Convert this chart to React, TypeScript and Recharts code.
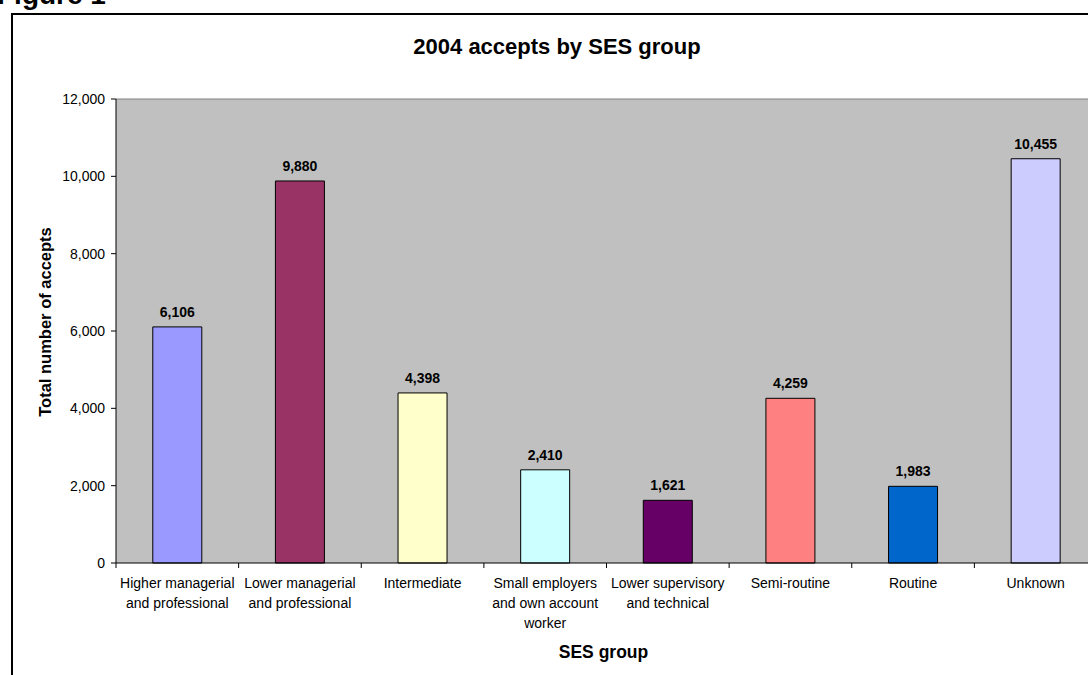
import React from "react";
import {
  BarChart,
  Bar,
  Cell,
  XAxis,
  YAxis,
  CartesianGrid,
  LabelList,
  ReferenceLine,
} from "recharts";

// SES groups, one line per row of the wrapped axis label
const categories = [
  "Higher managerial\nand professional",
  "Lower managerial\nand professional",
  "Intermediate",
  "Small employers\nand own account\nworker",
  "Lower supervisory\nand technical",
  "Semi-routine",
  "Routine",
  "Unknown",
];

const accepts = [6106, 9880, 4398, 2410, 1621, 4259, 1983, 10455];

const barColors = [
  "#9999FF",
  "#993366",
  "#FFFFCC",
  "#CCFFFF",
  "#660066",
  "#FF8080",
  "#0066CC",
  "#CCCCFF",
];

const yTicks = [0, 2000, 4000, 6000, 8000, 10000, 12000];

const data = categories.map((name, i) => ({ name, accepts: accepts[i] }));

const FONT = "'Liberation Sans', Arial, sans-serif";
const CHART_W = 1110;
const CHART_H = 700;
const MARGIN = { top: 99, right: 13, bottom: 57, left: 56 };
const Y_AXIS_W = 60;
const X_AXIS_H = 80;
const PLOT_W = CHART_W - MARGIN.left - MARGIN.right - Y_AXIS_W;
const BAND = PLOT_W / categories.length;

const fmt = (v: number) => Number(v).toLocaleString("en-US");

// category label plus the boundary tick marks between categories
function CategoryTick(props: any) {
  const { x, y, payload, index } = props;
  const lines = String(payload.value).split("\n");
  const isLast = index === categories.length - 1;
  return (
    <g>
      <line x1={x - BAND / 2} x2={x - BAND / 2} y1={y} y2={y + 5} stroke="#000" />
      {isLast && (
        <line x1={x + BAND / 2} x2={x + BAND / 2} y1={y} y2={y + 5} stroke="#000" />
      )}
      <text
        x={x}
        y={y + 25}
        textAnchor="middle"
        fontSize={14}
        fontFamily={FONT}
        fill="#000"
      >
        {lines.map((l, i) => (
          <tspan key={i} x={x} dy={i === 0 ? 0 : 20}>
            {l}
          </tspan>
        ))}
      </text>
    </g>
  );
}

function YTitle(props: any) {
  const { viewBox } = props;
  const cx = viewBox.x - 11;
  const cy = viewBox.y + viewBox.height / 2 - 9;
  return (
    <text
      x={cx}
      y={cy}
      transform={`rotate(-90, ${cx}, ${cy})`}
      textAnchor="middle"
      dominantBaseline="central"
      fontSize={16.5}
      fontWeight="bold"
      fontFamily={FONT}
      fill="#000"
    >
      Total number of accepts
    </text>
  );
}

function XTitle(props: any) {
  const { viewBox } = props;
  return (
    <text
      x={viewBox.x + viewBox.width / 2 - 3}
      y={viewBox.y + 95}
      textAnchor="middle"
      fontSize={17.5}
      fontWeight="bold"
      fontFamily={FONT}
      fill="#000"
    >
      SES group
    </text>
  );
}

export default function App() {
  return (
    <div
      style={{
        position: "absolute",
        left: 0,
        top: 0,
        width: 1088,
        height: 675,
        overflow: "hidden",
        background: "#fff",
        fontFamily: FONT,
      }}
    >
      <div
        style={{
          position: "absolute",
          left: -3,
          top: -20,
          fontSize: 28,
          fontWeight: "bold",
          lineHeight: "30px",
          color: "#000",
        }}
      >
        Figure 1
      </div>
      <div
        style={{
          position: "absolute",
          left: 11,
          top: 13,
          width: 1092,
          height: 700,
          border: "2px solid #000",
          boxSizing: "border-box",
        }}
      />
      <div
        style={{
          position: "absolute",
          left: 11,
          top: 33,
          width: 1092,
          textAlign: "center",
          fontSize: 22,
          fontWeight: "bold",
          lineHeight: "28px",
          color: "#000",
        }}
      >
        2004 accepts by SES group
      </div>
      <div style={{ position: "absolute", left: 0, top: 0 }}>
        <BarChart
          width={CHART_W}
          height={CHART_H}
          data={data}
          margin={MARGIN}
          barCategoryGap="30%"
        >
          <CartesianGrid
            fill="#C0C0C0"
            horizontal={false}
            vertical={false}
            stroke="none"
          />
          <ReferenceLine y={12000} stroke="#808080" ifOverflow="extendDomain" />
          <XAxis
            dataKey="name"
            interval={0}
            height={X_AXIS_H}
            tickLine={false}
            tickSize={0}
            tickMargin={0}
            axisLine={{ stroke: "#000" }}
            tick={<CategoryTick />}
            label={<XTitle />}
          />
          <YAxis
            width={Y_AXIS_W}
            domain={[0, 12000]}
            ticks={yTicks}
            tickFormatter={fmt}
            tickSize={5}
            tickMargin={6}
            axisLine={{ stroke: "#000" }}
            tickLine={{ stroke: "#000" }}
            tick={{ fontSize: 14, fill: "#000", fontFamily: FONT }}
            label={<YTitle />}
          />
          <Bar
            dataKey="accepts"
            stroke="#000"
            strokeWidth={1}
            isAnimationActive={false}
          >
            {data.map((_, i) => (
              <Cell key={i} fill={barColors[i]} />
            ))}
            <LabelList
              dataKey="accepts"
              position="top"
              offset={10}
              formatter={(v: any) => fmt(v)}
              fill="#000"
              fontSize={14}
              fontWeight="bold"
              fontFamily={FONT}
            />
          </Bar>
        </BarChart>
      </div>
    </div>
  );
}
